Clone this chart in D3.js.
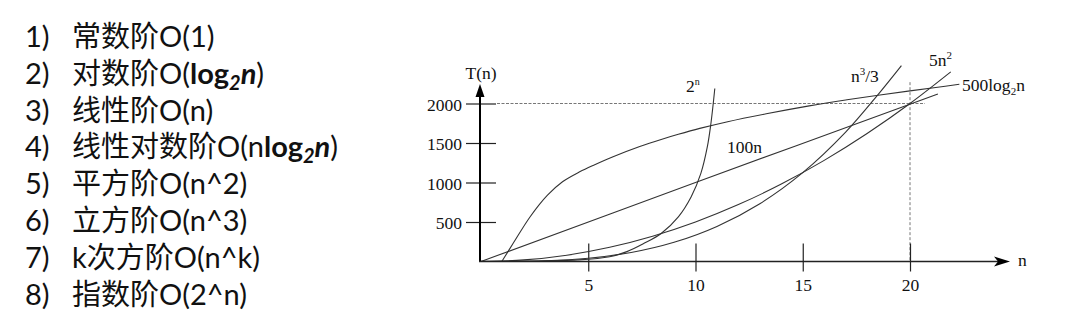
<!DOCTYPE html>
<html>
<head>
<meta charset="utf-8">
<script src="https://cdn.jsdelivr.net/npm/d3@7"></script>
<style>
  body { margin: 0; background: #fff; }
  .plot text { font-family: "Liberation Serif", "DejaVu Serif", serif; font-size: 17.5px; fill: #111; }
  .list text { font-family: "Lato", "Noto Sans CJK SC", sans-serif; font-size: 29px; fill: #111; }
</style>
</head>
<body>
<div id="chart"></div>
<script>
// left-hand list of complexity orders
var listNums = ["1)", "2)", "3)", "4)", "5)", "6)", "7)", "8)"];
var listItems = ["常数阶O(1)", "对数阶O(log₂n)", "线性阶O(n)", "线性对数阶O(nlog₂n)",
                 "平方阶O(n^2)", "立方阶O(n^3)", "k次方阶O(n^k)", "指数阶O(2^n)"];

// axis ticks
var xTicks = [5, 10, 15, 20];
var yTicks = [500, 1000, 1500, 2000];

// curves: [n, T(n)]
var curveLog = [[0.97, 0], [1.5, 230], [2.3, 570], [3.1, 840], [3.8, 1010], [4.6, 1135], [5.3, 1225],
                [6.1, 1320], [7.4, 1455], [8.4, 1545], [9.2, 1610], [10.2, 1685], [11.5, 1770],
                [13.3, 1870], [15.3, 1970], [17, 2045], [18.6, 2108], [20, 2160], [21.2, 2203],
                [22.3, 2243]];
var curveLinear = [[0, 0], [10, 1000], [21.3, 2120]];
var curveSquare = [[0, 0], [2, 20], [4, 80], [6, 180], [8, 320], [10, 500], [12, 720], [14, 980],
                   [16, 1280], [18, 1620], [20, 2000], [21.9, 2400]];
var curveCube = [[0, 0], [3, 9], [5, 42], [7, 114], [9, 243], [11, 444], [13, 732], [15, 1125],
                 [17, 1638], [18.5, 2110], [19.6, 2480]];
var curveExp = [[0, 1], [2.2, 5], [4.5, 20], [6, 60], [6.8, 125], [7.6, 230], [8.4, 355], [9.2, 565],
                [9.8, 820], [10.25, 1115], [10.55, 1450], [10.72, 1750], [10.9, 2190]];

var W = 1078, H = 325;
var svg = d3.select("#chart").append("svg")
    .attr("width", W)
    .attr("height", H);

// ---- list ----
var list = svg.append("g").attr("class", "list");
listItems.forEach(function(item, i) {
  var y = 46.7 + i * 36.9;
  list.append("text").attr("x", 25).attr("y", y).text(listNums[i]);
  var t = list.append("text").attr("x", 72).attr("y", y);
  var k = item.indexOf("log₂n");
  if (k < 0) { t.text(item); return; }
  t.append("tspan").text(item.slice(0, k));
  t.append("tspan").attr("font-weight", "bold").text("log");
  t.append("tspan").attr("font-weight", "bold").attr("font-style", "italic")
    .attr("font-size", "20px").attr("dy", 6).text("2");
  t.append("tspan").attr("font-weight", "bold").attr("font-style", "italic")
    .attr("dy", -6).text("n");
  t.append("tspan").text(item.slice(k + 5));
});

// ---- plot ----
var plot = svg.append("g").attr("class", "plot");
var x = d3.scaleLinear().domain([0, 20]).range([481, 910]);
var y = d3.scaleLinear().domain([0, 2000]).range([261.5, 103.5]);

// dotted guides at (20, 2000)
plot.append("line")
    .attr("x1", x(0) + 16).attr("x2", x(20.7))
    .attr("y1", y(2000)).attr("y2", y(2000))
    .attr("stroke", "#777").attr("stroke-width", 1).attr("stroke-dasharray", "3,1.5");
plot.append("line")
    .attr("x1", x(20)).attr("x2", x(20))
    .attr("y1", y(2270)).attr("y2", y(0))
    .attr("stroke", "#777").attr("stroke-width", 1).attr("stroke-dasharray", "3,2");

var yAxis = d3.axisLeft(y).tickValues(yTicks).tickFormat(d3.format("d")).tickSize(14).tickPadding(4);
var gy = plot.append("g").attr("transform", "translate(480,0)").call(yAxis);
gy.select(".domain").remove();
gy.selectAll(".tick line").attr("x1", 16).attr("x2", -14).attr("stroke", "#222").attr("stroke-width", 1.2);
gy.selectAll(".tick text").attr("font-family", null).attr("font-size", null).attr("dy", "0.38em");

var xAxis = d3.axisBottom(x).tickValues(xTicks).tickSize(10).tickPadding(7);
var gx = plot.append("g").attr("transform", "translate(0," + y(0) + ")").call(xAxis);
gx.select(".domain").remove();
gx.selectAll(".tick line").attr("y1", -18).attr("y2", 10).attr("stroke", "#222").attr("stroke-width", 1.2);
gx.selectAll(".tick text").attr("font-family", null).attr("font-size", null);

// curves
var line = d3.line()
    .x(function(d) { return x(d[0]); })
    .y(function(d) { return y(d[1]); })
    .curve(d3.curveCatmullRom.alpha(0.5));
[curveLog, curveLinear, curveSquare, curveCube, curveExp].forEach(function(c) {
  plot.append("path").datum(c)
      .attr("d", line)
      .attr("fill", "none")
      .attr("stroke", "#333")
      .attr("stroke-width", 1.1);
});

// main axes with arrows
plot.append("line").attr("x1", 480).attr("x2", 480).attr("y1", y(0)).attr("y2", 95)
    .attr("stroke", "#000").attr("stroke-width", 2);
plot.append("path").attr("d", "M480,84 L475.5,97 L484.5,97 Z").attr("fill", "#000");
plot.append("line").attr("x1", 479).attr("x2", 1000).attr("y1", y(0)).attr("y2", y(0))
    .attr("stroke", "#222").attr("stroke-width", 1.5);
plot.append("path").attr("d", "M1010," + y(0) + " L994," + (y(0) - 5) + " L998," + y(0) +
    " L994," + (y(0) + 5) + " Z").attr("fill", "#000");

// axis titles
plot.append("text").attr("x", 481).attr("y", 79).attr("text-anchor", "middle").text("T(n)");
plot.append("text").attr("x", 1018).attr("y", 266).text("n");

// curve labels
var l1 = plot.append("text").attr("x", 686).attr("y", 92);
l1.append("tspan").text("2");
l1.append("tspan").attr("font-size", "10px").attr("dy", -7).text("n");

plot.append("text").attr("x", 727).attr("y", 153).text("100n");

var l3 = plot.append("text").attr("x", 851).attr("y", 82);
l3.append("tspan").text("n");
l3.append("tspan").attr("font-size", "11px").attr("dy", -7).text("3");
l3.append("tspan").attr("dy", 7).text("/3");

var l4 = plot.append("text").attr("x", 929).attr("y", 66);
l4.append("tspan").text("5n");
l4.append("tspan").attr("font-size", "11px").attr("dy", -7).text("2");

var l5 = plot.append("text").attr("x", 962).attr("y", 91);
l5.append("tspan").text("500log");
l5.append("tspan").attr("font-size", "11px").attr("dy", 4).text("2");
l5.append("tspan").attr("dy", -4).text("n");
</script>
</body>
</html>
